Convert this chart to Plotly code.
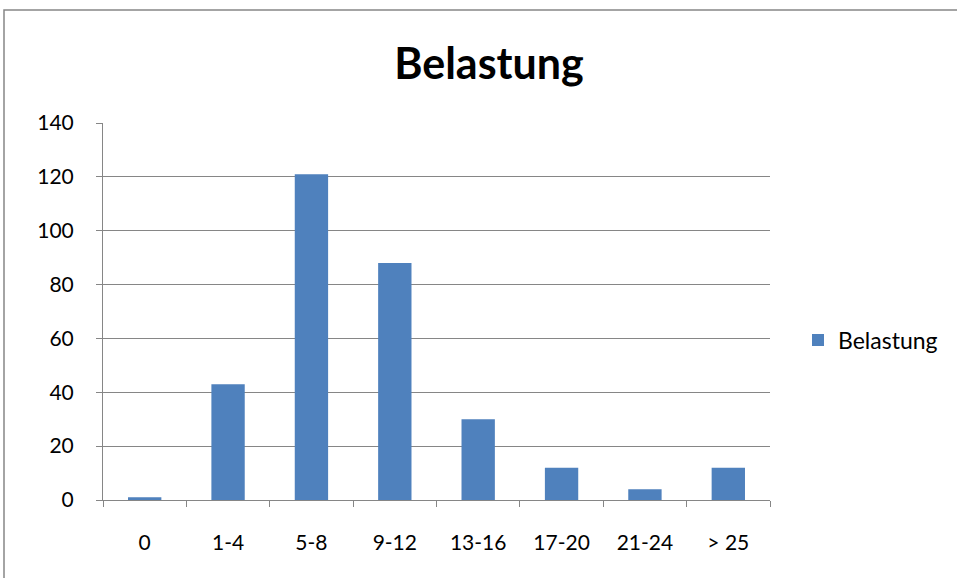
import plotly.graph_objects as go

categories = ["0", "1-4", "5-8", "9-12", "13-16", "17-20", "21-24", "> 25"]
values = [1, 43, 121, 88, 30, 12, 4, 12]
series_name = "Belastung"
y_ticks = [0, 20, 40, 60, 80, 100, 120, 140]

W, H = 957, 578
L, R, T, B = 103, 770, 123, 500

fig = go.Figure()
fig.add_trace(go.Bar(
    x=categories, y=values, name=series_name,
    marker=dict(color="#4F81BD", line=dict(width=0)),
    showlegend=True,
))

font = "Lato, Open Sans, sans-serif"
fig.update_layout(
    width=W, height=H,
    margin=dict(l=L, r=W - R, t=T, b=H - B, pad=0),
    paper_bgcolor="white", plot_bgcolor="white",
    bargap=0.6,
    title=dict(text="<b>Belastung</b>", x=489 / W, xanchor="center",
               y=1 - 64 / H, yanchor="middle",
               font=dict(family=font, size=43, color="black")),
    font=dict(family=font, size=21, color="black"),
    legend=dict(x=(798 - L) / (R - L), xanchor="left", y=(B - 340) / (B - T), yanchor="middle",
                font=dict(size=23, family=font, color="black"), itemwidth=30,
                bgcolor="rgba(0,0,0,0)"),
    xaxis=dict(type="category", showline=True, linecolor="#868686", linewidth=1,
               ticks="outside", tickson="boundaries", ticklen=6, tickcolor="#868686",
               showgrid=False, tickfont=dict(size=21), ticklabelstandoff=24),
    yaxis=dict(range=[0, 140], tickvals=y_ticks, showline=True, linecolor="#868686",
               linewidth=1, ticks="outside", ticklen=6, tickcolor="#868686",
               showgrid=True, gridcolor="#868686", gridwidth=1, zeroline=False,
               tickfont=dict(size=21), ticklabelstandoff=18),
    shapes=[dict(type="rect", xref="paper", yref="paper",
                 x0=(4 - L) / (R - L), x1=(W + 20 - L) / (R - L),
                 y0=(B - (H + 20)) / (B - T), y1=(B - 10) / (B - T),
                 line=dict(color="#868686", width=1.5), fillcolor="rgba(0,0,0,0)",
                 layer="below")],
)

fig.write_html("out.html", config={"displayModeBar": False},
               post_script="document.body.style.margin='0';")
